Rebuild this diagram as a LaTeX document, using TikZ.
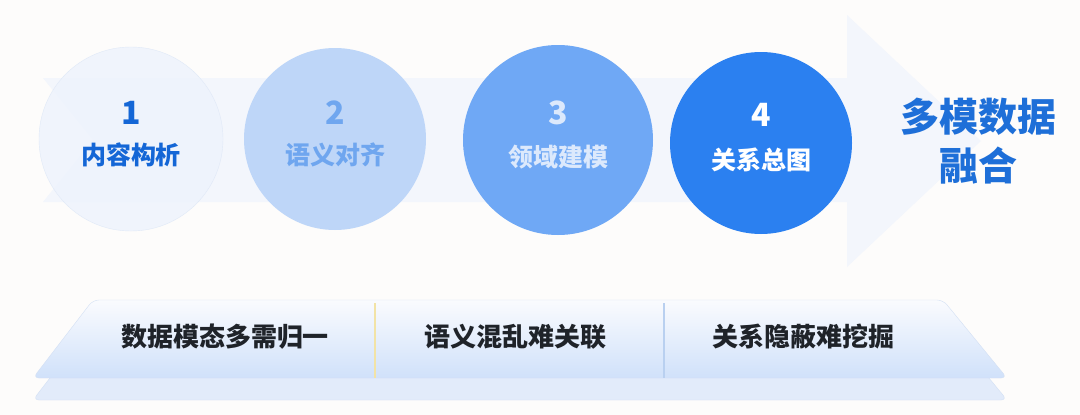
\documentclass[tikz,border=0pt]{standalone}
\usepackage{fontspec}
\setmainfont{Noto Sans CJK SC}
\usepackage{xcolor}
\usetikzlibrary{positioning}

\definecolor{bgpaper}{HTML}{FDFCFB}
\definecolor{bandfill}{HTML}{F3F6FC}
\definecolor{stageA}{HTML}{EEF3FD}
\definecolor{stageB}{HTML}{BED6F8}
\definecolor{stageC}{HTML}{6FA8F5}
\definecolor{stageD}{HTML}{2B80F0}
\definecolor{textA}{HTML}{1466D6}
\definecolor{textB}{HTML}{6FA6EF}
\definecolor{textC}{HTML}{DCE9FC}
\definecolor{goalblue}{HTML}{1E6FD8}
\definecolor{trayedge}{HTML}{D3E0F4}
\definecolor{traytop}{HTML}{FAFBFE}
\definecolor{traybottom}{HTML}{D0E1FA}
\definecolor{trayback}{HTML}{E2EBFA}
\definecolor{darktext}{HTML}{1F2329}
\definecolor{sepgold}{HTML}{F2E3A6}
\definecolor{sepblue}{HTML}{B9D0F0}

\begin{document}
\begin{tikzpicture}[
		x=1pt, y=-1pt,
		stage/.style={
			circle,
			minimum size=184pt,
			inner sep=0pt
		},
		num/.style={
			font=\fontsize{32}{36}\selectfont\bfseries
		},
		lab/.style={
			font=\fontsize{25}{28}\selectfont\bfseries
		},
		issue/.style={
			font=\fontsize{26}{30}\selectfont\bfseries,
			text=darktext
		}
		]
		
		% --- background and page size ---
		\fill[bgpaper] (0,0) rectangle (1080,415);
		\useasboundingbox (0,0) rectangle (1080,415);
		
		% --- 1. Big arrow behind the stages ---
		\fill[bandfill] (43,78) -- (847,78) -- (847,15) -- (981,141)
			-- (847,267) -- (847,202) -- (43,202) -- (93,140) -- cycle;
		
		% --- 2. Stages ---
		\node[stage, fill=stageA, fill opacity=0.85, draw=trayedge!70] (s1) at (131,139) {};
		\node[stage, fill=stageB, minimum size=182pt] (s2) at (335,139) {};
		\node[stage, fill=stageC, minimum size=190pt] (s3) at (558,140) {};
		\node[stage, fill=stageD, minimum size=182pt] (s4) at (761,143) {};
		
		% numbers and names, shifted from the circle centres
		\node[num, text=textA] (n1) at ([yshift=26]s1.center) {1};
		\node[lab, text=textA] (l1) at ([yshift=-16]s1.center) {内容构析};
		\node[num, text=textB] (n2) at ([yshift=26]s2.center) {2};
		\node[lab, text=textB] (l2) at ([yshift=-16]s2.center) {语义对齐};
		\node[num, text=textC] (n3) at ([yshift=27]s3.center) {3};
		\node[lab, text=textC] (l3) at ([yshift=-17]s3.center) {领域建模};
		\node[num, text=white] (n4) at ([yshift=28]s4.center) {4};
		\node[lab, text=white] (l4) at ([yshift=-17]s4.center) {关系总图};
		
		% --- 3. Goal text at the arrow head ---
		\node[font=\fontsize{39}{49}\selectfont\bfseries, text=goalblue, align=center]
			(goal) at (978,141) {多模数据\\融合};
		
		% --- 4. Tray with the three problems ---
		\draw[trayedge, fill=trayback, rounded corners=6]
			(93,322) -- (943,322) -- (1007,400) -- (33,400) -- cycle;
		\shade[top color=traytop, bottom color=traybottom, rounded corners=6]
			(93,300) -- (943,300) -- (1007,378) -- (33,378) -- cycle;
		\draw[trayedge, rounded corners=6]
			(93,300) -- (943,300) -- (1007,378) -- (33,378) -- cycle;
		
		\coordinate (d1top) at (375,303);
		\coordinate (d1bot) at (375,378);
		\coordinate (d2top) at (664,303);
		\coordinate (d2bot) at (664,378);
		\draw[sepgold, line width=1.2pt] (d1top) -- (d1bot);
		\draw[sepblue, line width=1.2pt] (d2top) -- (d2bot);
		
		\node[issue] (p1) at (225,337) {数据模态多需归一};
		\node[issue] (p2) at (515,337) {语义混乱难关联};
		\node[issue] (p3) at (803,337) {关系隐蔽难挖掘};
		
	\end{tikzpicture}
\end{document}
